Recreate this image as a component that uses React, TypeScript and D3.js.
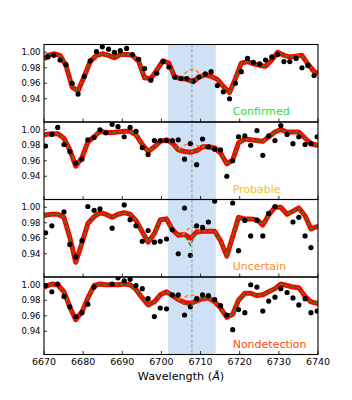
import React from 'react';
import * as d3 from 'd3';

// ---------- data ----------
const WAVE_CONFIRMED = [6671.0, 6672.5, 6674.1, 6675.6, 6677.2, 6678.7, 6680.3, 6681.8, 6683.4, 6684.9, 6686.5, 6688.0, 6689.5, 6691.1, 6692.6, 6694.2, 6695.7, 6697.3, 6698.8, 6700.4, 6701.9, 6703.4, 6705.0, 6706.5, 6708.1, 6709.6, 6711.2, 6712.7, 6714.3, 6715.8, 6717.4, 6718.9, 6720.4, 6722.0, 6723.5, 6725.1, 6726.6, 6728.2, 6729.7, 6731.3, 6732.8, 6734.4, 6735.9, 6737.4, 6739.0];
const WAVE_OTHER = [6670.4, 6672.0, 6673.5, 6675.1, 6676.6, 6678.1, 6679.7, 6681.2, 6682.8, 6684.3, 6685.8, 6687.4, 6688.9, 6690.5, 6692.0, 6693.5, 6695.1, 6696.6, 6698.2, 6699.7, 6701.3, 6702.8, 6704.3, 6705.9, 6707.4, 6709.0, 6710.5, 6712.0, 6713.6, 6715.1, 6716.7, 6718.2, 6719.7, 6721.3, 6722.8, 6724.4, 6725.9, 6727.4, 6729.0, 6730.5, 6732.1, 6733.6, 6735.1, 6736.7, 6738.2, 6739.8];

const FLUX_CONFIRMED = [0.994, 0.996, 0.990, 0.984, 0.960, 0.946, 0.969, 0.989, 1.001, 1.007, 1.004, 1.000, 1.002, 1.005, 0.997, 0.991, 0.979, 0.964, 0.973, 0.988, 0.981, 0.968, 0.966, 0.966, 0.963, 0.968, 0.972, 0.975, 0.957, 0.949, 0.940, 0.960, 0.975, 0.992, 0.987, 0.985, 0.990, 0.994, 0.997, 0.988, 0.988, 0.992, 0.980, 0.983, 0.970];
const FLUX_PROBABLE = [0.979, 0.994, 1.003, 0.981, 0.972, 0.957, 0.962, 0.987, 0.990, 1.000, 0.996, 1.007, 1.004, 0.991, 1.003, 0.998, 0.977, 0.968, 0.986, 0.986, 0.986, 0.986, 0.987, 0.962, 0.982, 0.955, 0.988, 0.978, 0.975, 0.974, 0.940, 0.960, 0.991, 0.992, 0.980, 0.999, 0.967, 0.992, 0.986, 1.0055, 0.994, 0.982, 0.991, 0.981, 0.982, 0.991];
const FLUX_UNCERTAIN = [0.967, 0.976, null, 0.994, 0.952, 0.936, 0.957, 1.001, 0.996, 0.998, null, 0.973, null, 1.003, 0.984, 0.976, 0.956, 0.970, 0.955, 0.956, 0.959, 0.971, 0.940, 0.999, 0.938, 0.976, 0.974, 0.981, 1.008, null, null, 1.0055, 0.944, 0.983, 0.963, 0.983, 0.963, 0.992, 1.001, null, null, 0.981, 0.987, 0.963, 0.948, null];
const FLUX_NONDETECTION = [0.999, 0.991, 1.001, 0.985, 0.9715, 0.959, 0.964, 0.975, 0.997, null, null, 1.001, 1.009, 1.005, 1.007, 0.999, 0.995, 0.982, 0.959, 0.970, 0.969, 0.987, 0.987, 0.961, 0.9715, 0.982, 0.987, 0.986, 0.981, 0.973, 0.961, 0.942, 0.968, 0.964, 1.000, 0.997, 0.966, 0.979, 0.984, 0.995, 0.990, 0.983, 0.974, 0.982, 0.964, 0.966];

// model (best fit) including the two plot edges 6670 and 6740
const MODEL_CONFIRMED = [0.991, 0.996, 0.998, 0.996, 0.983, 0.955, 0.950, 0.969, 0.988, 0.996, 0.998, 0.996, 0.993, 0.997, 0.997, 0.996, 0.988, 0.967, 0.966, 0.977, 0.989, 0.986, 0.968, 0.966, 0.965, 0.962, 0.968, 0.971, 0.969, 0.965, 0.956, 0.948, 0.966, 0.986, 0.988, 0.985, 0.983, 0.982, 0.990, 1.000, 0.996, 0.994, 0.995, 0.996, 0.985, 0.975, 0.973];
const MODEL_PROBABLE = [0.992, 0.994, 0.995, 0.995, 0.989, 0.974, 0.953, 0.964, 0.984, 0.991, 0.998, 0.9965, 0.9965, 0.997, 0.998, 0.998, 0.9935, 0.981, 0.972, 0.978, 0.985, 0.987, 0.983, 0.974, 0.972, 0.971, 0.973, 0.978, 0.978, 0.9765, 0.970, 0.956, 0.961, 0.983, 0.988, 0.987, 0.986, 0.985, 0.991, 0.997, 1.0004, 0.997, 0.997, 0.997, 0.989, 0.982, 0.980, 0.980];
const MODEL_UNCERTAIN = [0.988, 0.990, 0.991, 0.991, 0.987, 0.961, 0.929, 0.954, 0.979, 0.988, 0.993, 0.991, 0.987, 0.991, 0.993, 0.991, 0.983, 0.968, 0.955, 0.966, 0.984, 0.985, 0.971, 0.964, 0.965, 0.960, 0.968, 0.969, 0.969, 0.969, 0.957, 0.937, 0.962, 0.987, 0.985, 0.985, 0.984, 0.977, 0.990, 1.000, 1.000, 0.991, 0.995, 0.999, 0.989, 0.972, 0.975, 0.975];
const MODEL_NONDETECTION = [0.996, 0.998, 1.001, 1.000, 0.991, 0.971, 0.955, 0.965, 0.983, 0.999, 1.001, 1.000, 1.000, 1.000, 1.001, 1.000, 0.994, 0.983, 0.974, 0.978, 0.987, 0.991, 0.986, 0.981, 0.977, 0.976, 0.979, 0.982, 0.983, 0.978, 0.970, 0.958, 0.962, 0.980, 0.989, 0.989, 0.986, 0.987, 0.991, 0.995, 1.001, 0.999, 0.997, 0.996, 0.985, 0.978, 0.976, 0.976];

// green (no-Li model) differs from the fit only near the Li line
const GREEN_CONFIRMED: [number, number][] = [];
const GREEN_PROBABLE: [number, number][] = [];
const GREEN_UNCERTAIN: [number, number][] = [[6705.9, 0.965], [6707.4, 0.951], [6709.0, 0.968]];
const GREEN_NONDETECTION: [number, number][] = [[6705.9, 0.975], [6707.4, 0.973]];

// orange dashed (Li model) around the Li line
const ORANGE_CONFIRMED: [number, number][] = [[6704.7, 0.966], [6705.6, 0.971], [6706.6, 0.975], [6707.8, 0.978], [6709.0, 0.976], [6710.0, 0.971], [6710.9, 0.970]];
const ORANGE_PROBABLE: [number, number][] = [[6704.3, 0.975], [6705.6, 0.979], [6707.3, 0.982], [6708.6, 0.981], [6709.9, 0.978], [6710.8, 0.978]];
const ORANGE_UNCERTAIN: [number, number][] = [[6705.3, 0.964], [6706.9, 0.972], [6707.7, 0.974], [6708.8, 0.9735], [6709.9, 0.970]];
const ORANGE_NONDETECTION: [number, number][] = [[6704.3, 0.981], [6705.9, 0.984], [6707.4, 0.987], [6708.6, 0.986], [6710.0, 0.983]];

const LABELS = ['Confirmed', 'Probable', 'Uncertain', 'Nondetection'];
const LABEL_COLORS = ['#2fdc2f', '#f5c211', '#ff8c1a', '#ff4a10'];
const X_TICKS = [6670, 6680, 6690, 6700, 6710, 6720, 6730, 6740];
const Y_TICKS = [0.94, 0.96, 0.98, 1.0];
const LI_LINE = 6707.8;
const SHADE = [6701.7, 6713.9];
const X_DOMAIN = [6670, 6740];
const Y_DOMAIN = [0.91, 1.01];

const PANELS = [
  { wave: WAVE_CONFIRMED, flux: FLUX_CONFIRMED, model: MODEL_CONFIRMED, green: GREEN_CONFIRMED, orange: ORANGE_CONFIRMED },
  { wave: WAVE_OTHER, flux: FLUX_PROBABLE, model: MODEL_PROBABLE, green: GREEN_PROBABLE, orange: ORANGE_PROBABLE },
  { wave: WAVE_OTHER, flux: FLUX_UNCERTAIN, model: MODEL_UNCERTAIN, green: GREEN_UNCERTAIN, orange: ORANGE_UNCERTAIN },
  { wave: WAVE_OTHER, flux: FLUX_NONDETECTION, model: MODEL_NONDETECTION, green: GREEN_NONDETECTION, orange: ORANGE_NONDETECTION },
];

// ---------- layout ----------
const W = 352, H = 400;
const LEFT = 44, RIGHT = 318, TOP = 44.5, PH = 77.5;
const FONT = 'DejaVu Sans, sans-serif';

export default function App() {
  const x = d3.scaleLinear().domain(X_DOMAIN).range([LEFT, RIGHT]);
  const bottom = TOP + PANELS.length * PH;
  const fmt = d3.format('.2f');

  return (
    <svg width={W} height={H} style={{ position: 'absolute', left: 0, top: 0, background: '#fff' }} fontFamily={FONT}>
      <defs>
        {PANELS.map((_, k) => (
          <clipPath id={`clip${k}`} key={k}>
            <rect x={LEFT} y={TOP + k * PH} width={RIGHT - LEFT} height={PH} />
          </clipPath>
        ))}
      </defs>
      {PANELS.map((p, k) => {
        const top = TOP + k * PH;
        const y = d3.scaleLinear().domain(Y_DOMAIN).range([top + PH, top]);
        const line = d3.line<[number, number]>().x(d => x(d[0])).y(d => y(d[1]));
        const modelWave = [X_DOMAIN[0], ...p.wave, X_DOMAIN[1]];
        const modelPts: [number, number][] = modelWave.map((w, i) => [w, p.model[i]]);
        const greenPts: [number, number][] = modelPts.map(([w, v]) => {
          const o = p.green.find(g => Math.abs(g[0] - w) < 0.05);
          return [w, o ? o[1] : v];
        });
        const orangeLine = d3.line<[number, number]>().x(d => x(d[0])).y(d => y(d[1])).curve(d3.curveMonotoneX);
        return (
          <g key={k}>
            <rect x={x(SHADE[0])} y={top} width={x(SHADE[1]) - x(SHADE[0])} height={PH} fill="#cfe2f5" />
            <g clipPath={`url(#clip${k})`}>
              <path d={line(modelPts) || ''} fill="none" stroke="#ff0000" strokeWidth={5} strokeLinejoin="round" />
              <path d={line(greenPts) || ''} fill="none" stroke="#1f951f" strokeWidth={1.5} strokeDasharray="4,2" />
              <path d={orangeLine(p.orange) || ''} fill="none" stroke="#ff7f0e" strokeWidth={1.4} strokeDasharray="4,2.5" />
              {p.wave.map((w, i) => p.flux[i] == null ? null : (
                <circle key={i} cx={x(w)} cy={y(p.flux[i] as number)} r={2.6} fill="#000" />
              ))}
            </g>
            {Y_TICKS.map(t => (
              <g key={t}>
                <line x1={LEFT} x2={LEFT + 3} y1={y(t)} y2={y(t)} stroke="#000" strokeWidth={0.8} />
                <text x={LEFT - 3.5} y={y(t)} dy="0.35em" textAnchor="end" fontSize={8.5} fill="#000">{fmt(t)}</text>
              </g>
            ))}
            {X_TICKS.map(t => (
              <line key={t} x1={x(t)} x2={x(t)} y1={top + PH} y2={top + PH - 3.5} stroke="#000" strokeWidth={0.8} />
            ))}
            <text x={x(6718.2)} y={y(0.919)} fontSize={11} fill={LABEL_COLORS[k]}>{LABELS[k]}</text>
          </g>
        );
      })}
      <line x1={x(LI_LINE)} x2={x(LI_LINE)} y1={TOP} y2={bottom} stroke="#8a8a8a" strokeWidth={0.9} strokeDasharray="3,2" />
      {PANELS.map((_, k) => (
        <rect key={k} x={LEFT} y={TOP + k * PH} width={RIGHT - LEFT} height={PH} fill="none" stroke="#000" strokeWidth={1.1} />
      ))}
      {X_TICKS.map(t => (
        <text key={t} x={x(t)} y={bottom + 10.5} textAnchor="middle" fontSize={9.5} fill="#000">{t}</text>
      ))}
      <text x={(LEFT + RIGHT) / 2} y={bottom + 25} textAnchor="middle" fontSize={11.2} fill="#000">
        Wavelength (<tspan fontStyle="italic">Å</tspan>)
      </text>
    </svg>
  );
}
